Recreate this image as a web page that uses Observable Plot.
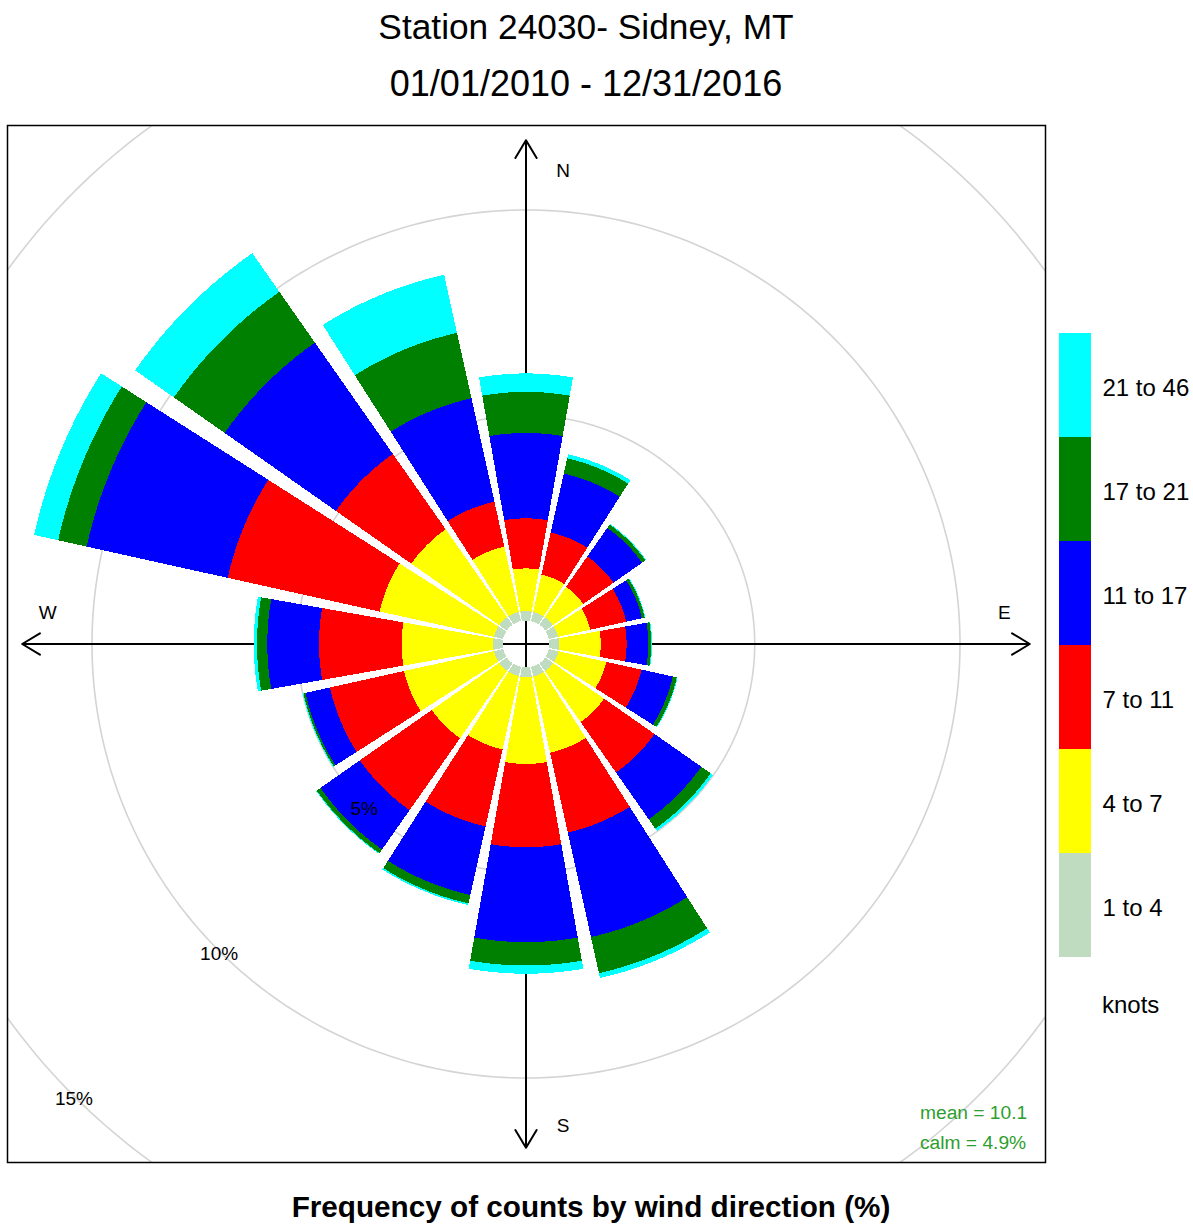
<!DOCTYPE html>
<html>
<head>
<meta charset="utf-8">
<script src="https://cdn.jsdelivr.net/npm/d3@7"></script>
<script src="https://cdn.jsdelivr.net/npm/@observablehq/plot@0.6"></script>
<style>
  html, body { margin: 0; padding: 0; background: #fff; overflow: hidden; }
  #page { position: relative; width: 1193px; height: 1224px; font-family: "Liberation Sans", Arial, sans-serif; color: #000; }
  .title { position: absolute; left: 0; width: 1172px; text-align: center; line-height: 36px; white-space: nowrap; }
  .caption { position: absolute; left: 0; width: 1182px; text-align: center; font-size: 29.7px; line-height: 30px; font-weight: bold; white-space: nowrap; }
  .stat { position: absolute; left: 920px; font-size: 19.2px; line-height: 19px; color: #2e9e2e; white-space: nowrap; }
  .units { position: absolute; left: 1102px; font-size: 24px; line-height: 24px; white-space: nowrap; }
  #rose { position: absolute; left: 0; top: 120px; }
  #key { position: absolute; left: 1059px; top: 333px; }
</style>
</head>
<body>
<div id="page">
  <div class="title" id="t1" style="top:9px;font-size:35.3px"></div>
  <div class="title" id="t2" style="top:66px;font-size:36px"></div>
  <div id="rose"></div>
  <div id="key"></div>
  <div class="units" style="top:993px">knots</div>
  <div class="stat" id="meanText" style="top:1103px"></div>
  <div class="stat" id="calmText" style="top:1133px"></div>
  <div class="caption" style="top:1192px">Frequency of counts by wind direction (%)</div>
</div>
<script>
// ---- Station summary ----
const stationTitle = "Station 24030- Sidney, MT";
const periodTitle = "01/01/2010 - 12/31/2016";
const meanSpeed = 10.1;   // knots
const calmPercent = 4.9;  // %

// ---- Wind directions (16 sectors, 22.5° each) ----
const directions = ["N", "NNE", "NE", "ENE", "E", "ESE", "SE", "SSE",
                    "S", "SSW", "SW", "WSW", "W", "WNW", "NW", "NNW"];

// ---- Speed classes (knots) and their colours ----
const speedBins = ["1 to 4", "4 to 7", "7 to 11", "11 to 17", "17 to 21", "21 to 46"];
const binColors = ["#C0DCC0", "#FFFF00", "#FF0000", "#0000FF", "#008000", "#00FFFF"];

// ---- Frequency (% of counts) per direction, one array per speed class ----
const freq1to4   = [0.23, 0.23, 0.23, 0.23, 0.24, 0.24, 0.24, 0.24, 0.24, 0.23, 0.23, 0.23, 0.23, 0.23, 0.23, 0.23];
const freq4to7   = [1.04, 0.93, 0.90, 0.80, 1.01, 1.19, 1.51, 1.90, 2.11, 1.83, 2.00, 2.24, 2.23, 2.85, 2.61, 1.63];
const freq7to11  = [1.22, 1.05, 0.90, 0.90, 0.63, 0.88, 1.50, 1.99, 2.03, 1.92, 2.14, 1.85, 2.01, 3.79, 2.24, 1.12];
const freq11to17 = [2.08, 1.47, 0.85, 0.39, 0.53, 0.78, 1.39, 2.61, 2.31, 1.71, 1.17, 0.61, 1.26, 3.52, 3.31, 2.58];
const freq17to21 = [1.00, 0.38, 0.10, 0.07, 0.07, 0.10, 0.28, 0.90, 0.57, 0.21, 0.11, 0.05, 0.25, 0.71, 1.51, 1.63];
const freq21to46 = [0.45, 0.10, 0.02, 0.02, 0.02, 0.02, 0.07, 0.12, 0.20, 0.04, 0.02, 0.02, 0.08, 0.60, 1.15, 1.45];

// ---- Reference circles (%) ----
const gridLevels = [5, 10, 15, 20];
const gridLabels = ["5%", "10%", "15%", ""];

// ---- Geometry of the rose (radial units are percent) ----
const holeRadius = 0.57;     // empty centre circle
const sectorSpan = 22.5;     // degrees per direction
const wedgeSpan = 20;        // degrees actually filled in each sector
const axisReach = 12.27;     // length of the compass arrows
const pxPerPct = 41.06;      // drawing scale
const frameW = 1038, frameH = 1037, centreX = 518.5, centreY = 518.5;

const rad = d => d * Math.PI / 180;
const series = [freq1to4, freq4to7, freq7to11, freq11to17, freq17to21, freq21to46];

// Build one closed annular-sector polygon per direction and speed class
const wedgePoints = [];
directions.forEach((dir, i) => {
  const mid = i * sectorSpan;
  const a0 = mid - wedgeSpan / 2, a1 = mid + wedgeSpan / 2;
  let inner = holeRadius;
  series.forEach((values, j) => {
    const outer = inner + values[i];
    const id = dir + " " + speedBins[j];
    const steps = 48;
    for (let k = 0; k <= steps; k++) {
      const a = rad(a0 + (a1 - a0) * k / steps);
      wedgePoints.push({id, bin: speedBins[j], x: outer * Math.sin(a), y: outer * Math.cos(a)});
    }
    for (let k = steps; k >= 0; k--) {
      const a = rad(a0 + (a1 - a0) * k / steps);
      wedgePoints.push({id, bin: speedBins[j], x: inner * Math.sin(a), y: inner * Math.cos(a)});
    }
    inner = outer;
  });
});

// Reference circles
const circlePoints = [];
gridLevels.forEach(level => {
  const r = holeRadius + level;
  for (let k = 0; k <= 360; k++) {
    const a = rad(k);
    circlePoints.push({level, x: r * Math.sin(a), y: r * Math.cos(a)});
  }
});

// Circle labels sit on each circle towards the south-west
const circleLabelRows = gridLevels.map((level, i) => {
  const r = holeRadius + level;
  return {text: gridLabels[i], x: r * Math.sin(rad(225)), y: r * Math.cos(rad(225))};
}).filter(d => d.text);

// Compass arrows and letters
const compass = [
  {name: "N", ang: 0,   r: 11.53},
  {name: "E", ang: 90,  r: 11.65},
  {name: "S", ang: 180, r: 11.73},
  {name: "W", ang: 270, r: 11.65}
];
const verticalLetters = compass.filter(d => d.ang % 180 === 0);
const horizontalLetters = compass.filter(d => d.ang % 180 !== 0);
const letterX = d => d.r * Math.sin(rad(d.ang));
const letterY = d => d.r * Math.cos(rad(d.ang));

const font = "'Liberation Sans', Arial, sans-serif";

const rose = Plot.plot({
  width: 1193,
  height: 1047,
  marginLeft: 7,
  marginRight: 148,
  marginTop: 5,
  marginBottom: 5,
  style: {fontFamily: font, background: "transparent", overflow: "visible"},
  x: {domain: [-centreX / pxPerPct, (frameW - centreX) / pxPerPct], axis: null},
  y: {domain: [-(frameH - centreY) / pxPerPct, centreY / pxPerPct], axis: null},
  color: {domain: speedBins, range: binColors},
  marks: [
    Plot.line(circlePoints, {x: "x", y: "y", z: "level", stroke: "#d4d4d4", strokeWidth: 1.6, clip: true}),
    Plot.arrow(compass, {
      x1: () => 0, y1: () => 0,
      x2: d => axisReach * Math.sin(rad(d.ang)),
      y2: d => axisReach * Math.cos(rad(d.ang)),
      stroke: "black", strokeWidth: 2, headLength: 15.5, headAngle: 62
    }),
    Plot.line(wedgePoints, {x: "x", y: "y", z: "id", fill: "bin", stroke: "none", shapeRendering: "crispEdges"}),
    Plot.text(circleLabelRows, {x: "x", y: "y", text: "text", dy: 3, fontSize: 19, fill: "black"}),
    Plot.text(verticalLetters, {x: letterX, y: letterY, dx: 37, text: "name", fontSize: 19, fill: "black"}),
    Plot.text(horizontalLetters, {x: letterX, y: letterY, dy: -31, text: "name", fontSize: 19, fill: "black"}),
    Plot.frame({stroke: "black", strokeWidth: 1.5})
  ]
});
document.getElementById("rose").appendChild(rose);

// Colour key: one cell per speed class, fastest at the top
const key = Plot.plot({
  width: 134,
  height: 624,
  margin: 0,
  style: {fontFamily: font, background: "transparent", overflow: "visible"},
  x: {type: "band", domain: ["bar"], range: [0, 32], padding: 0, axis: null},
  y: {type: "band", domain: speedBins.slice().reverse(), range: [0, 624], padding: 0, axis: null},
  color: {domain: speedBins, range: binColors},
  marks: [
    Plot.cell(speedBins, {x: () => "bar", y: d => d, fill: d => d}),
    Plot.text(speedBins, {x: () => "bar", y: d => d, text: d => d, dx: 27, dy: 3, textAnchor: "start", fontSize: 24, fill: "black"})
  ]
});
document.getElementById("key").appendChild(key);

document.getElementById("t1").textContent = stationTitle;
document.getElementById("t2").textContent = periodTitle;
document.getElementById("meanText").textContent = "mean = " + meanSpeed;
document.getElementById("calmText").textContent = "calm = " + calmPercent + "%";
</script>
</body>
</html>
